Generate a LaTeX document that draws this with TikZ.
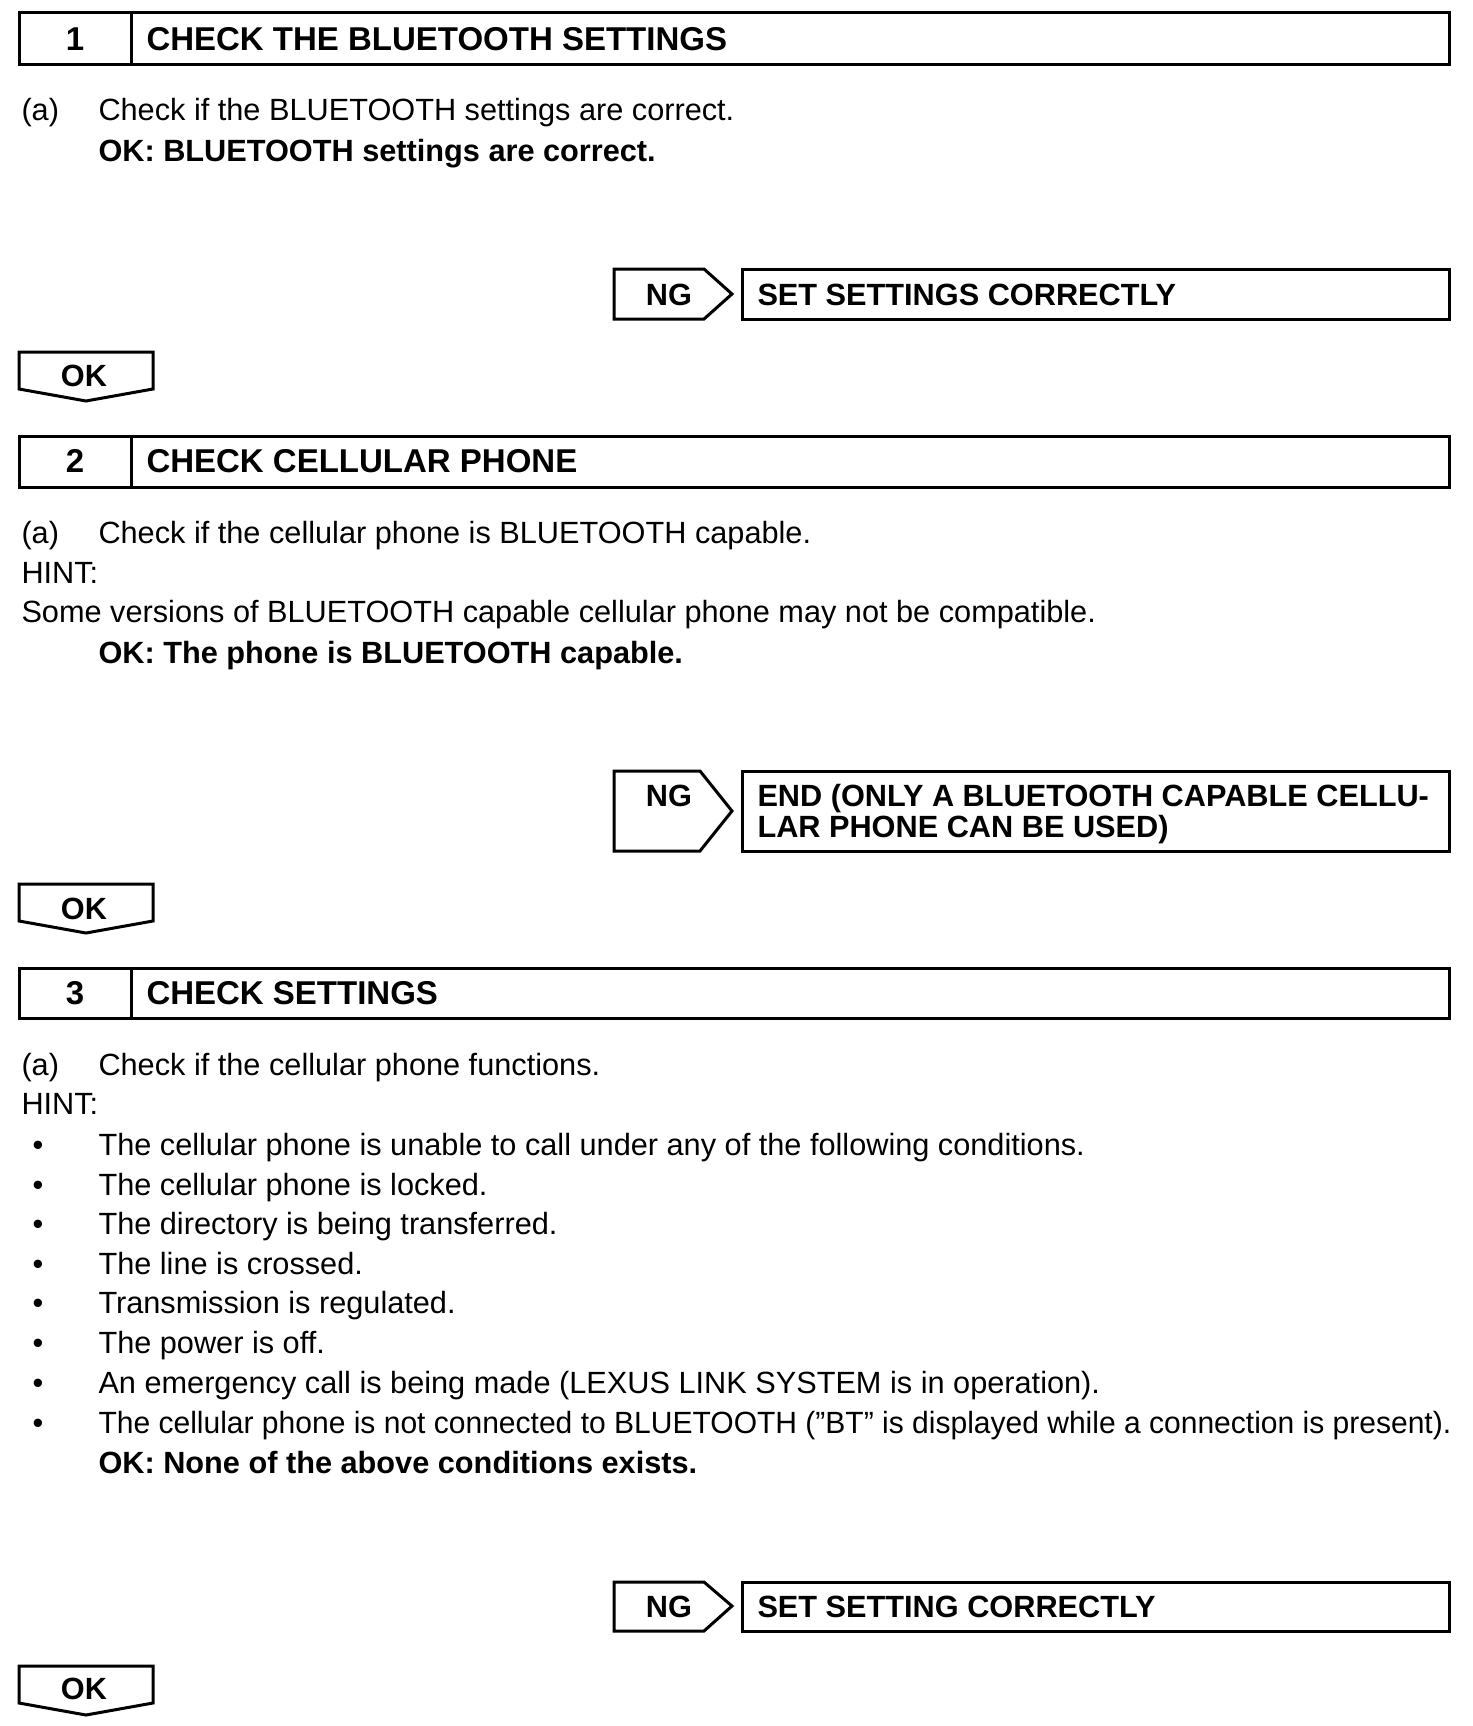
\documentclass[tikz,border=0pt]{standalone}
\usepackage{fontspec}
\setmainfont{Liberation Sans}
\begin{document}
\begin{tikzpicture}[x=1pt,y=-1pt, line width=3pt, line join=miter,
 body/.style={anchor=west, inner sep=0pt, font=\fontsize{30.7}{37}\selectfont, text height=22pt, text depth=0pt},
 bodyb/.style={anchor=west, inner sep=0pt, font=\fontsize{30.7}{37}\selectfont\bfseries, text height=22pt, text depth=0pt},
 ttl/.style={anchor=west, inner sep=0pt, font=\fontsize{33}{40}\selectfont\bfseries, text height=23.6pt, text depth=0pt},
 num/.style={anchor=center, inner sep=0pt, font=\fontsize{33}{40}\selectfont\bfseries, text height=23.6pt, text depth=0pt},
 tag/.style={bodyb, anchor=center}]
\useasboundingbox (0,0) rectangle (1472,1726);

% ---------- Step 1
\draw (19,13) rectangle (1449,65);
\draw (131,13) -- (131,65);
\node[num] (n1) at (75,39) {1};
\node[ttl] (t1) at (145,39) {CHECK THE BLUETOOTH SETTINGS};
\node[body] (a1) at (20,110) {(a)};
\node[body] (c1) at (97,110) {Check if the BLUETOOTH settings are correct.};
\node[bodyb] (ok1) at (97,150) {OK: BLUETOOTH settings are correct.};

\draw (614,269) -- (704,269) -- (732,294) -- (704,319) -- (614,319) -- cycle;
\node[tag] (ng1) at (669,294) {NG};
\draw (742,269) rectangle (1449,319);
\node[bodyb] (r1) at (756,294) {SET SETTINGS CORRECTLY};

\draw (19,352) -- (153,352) -- (153,389) -- (86,401) -- (19,389) -- cycle;
\node[tag] (okb1) at (84,375) {OK};

% ---------- Step 2
\draw (19,436) rectangle (1449,487);
\draw (131,436) -- (131,487);
\node[num] (n2) at (75,461) {2};
\node[ttl] (t2) at (145,461) {CHECK CELLULAR PHONE};
\node[body] (a2) at (20,532) {(a)};
\node[body] (c2) at (97,532) {Check if the cellular phone is BLUETOOTH capable.};
\node[body] (h2) at (20,572) {HINT:};
\node[body] (s2) at (20,611) {Some versions of BLUETOOTH capable cellular phone may not be compatible.};
\node[bodyb] (ok2) at (97,652) {OK: The phone is BLUETOOTH capable.};

\draw (614,771) -- (700,771) -- (732,811) -- (700,851) -- (614,851) -- cycle;
\node[tag] (ng2) at (669,795) {NG};
\draw (742,771) rectangle (1449,851);
\node[bodyb] (r2a) at (756,795) {END (ONLY A BLUETOOTH CAPABLE CELLU-};
\node[bodyb] (r2b) at (756,826) {LAR PHONE CAN BE USED)};

\draw (19,884) -- (153,884) -- (153,921) -- (86,933) -- (19,921) -- cycle;
\node[tag] (okb2) at (84,908) {OK};

% ---------- Step 3
\draw (19,968) rectangle (1449,1018);
\draw (131,968) -- (131,1018);
\node[num] (n3) at (75,993) {3};
\node[ttl] (t3) at (145,993) {CHECK SETTINGS};
\node[body] (a3) at (20,1064) {(a)};
\node[body] (c3) at (97,1064) {Check if the cellular phone functions.};
\node[body] (h3) at (20,1103) {HINT:};
\foreach \yy/\tx [count=\i] in {
 1144/{The cellular phone is unable to call under any of the following conditions.},
 1184/{The cellular phone is locked.},
 1223/{The directory is being transferred.},
 1263/{The line is crossed.},
 1302/{Transmission is regulated.},
 1342/{The power is off.},
 1382/{An emergency call is being made (LEXUS LINK SYSTEM is in operation).}}{
 \node[body] (b\i) at (31,\yy) {\textbullet};
 \node[body] (l\i) at (97,\yy) {\tx};
}
\node[body] (b8) at (31,1422) {\textbullet};
\node[body] (l8) at (97,1422) {\scalebox{0.978}[1]{The cellular phone is not connected to BLUETOOTH (”BT” is displayed while a connection is present).}};
\node[bodyb] (ok3) at (97,1462) {OK: None of the above conditions exists.};

\draw (614,1582) -- (704,1582) -- (732,1606) -- (704,1631) -- (614,1631) -- cycle;
\node[tag] (ng3) at (669,1606) {NG};
\draw (742,1582) rectangle (1449,1631);
\node[bodyb] (r3) at (756,1606) {SET SETTING CORRECTLY};

\draw (19,1666) -- (153,1666) -- (153,1703) -- (86,1715) -- (19,1703) -- cycle;
\node[tag] (okb3) at (84,1688) {OK};
\end{tikzpicture}
\end{document}
